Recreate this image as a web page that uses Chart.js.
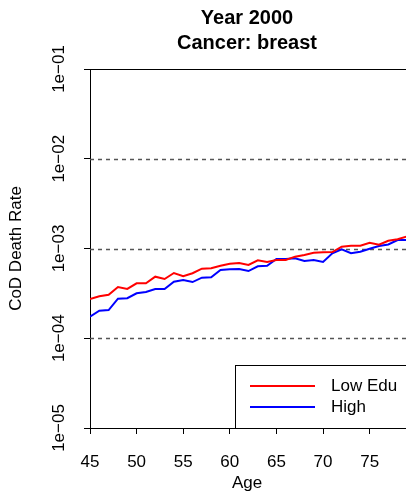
<!DOCTYPE html>
<html>
<head>
<meta charset="utf-8">
<script src="https://cdn.jsdelivr.net/npm/chart.js@4.4.0/dist/chart.umd.min.js"></script>
<style>
  html, body { margin: 0; padding: 0; background: #fff; overflow: hidden; }
  #wrap { width: 406px; height: 491px; }
</style>
</head>
<body>
<div id="wrap"><canvas id="chart" width="406" height="491"></canvas></div>
<script>
// data
const ages = [45, 46, 47, 48, 49, 50, 51, 52, 53, 54, 55, 56, 57, 58, 59, 60, 61, 62,
              63, 64, 65, 66, 67, 68, 69, 70, 71, 72, 73, 74, 75, 76, 77, 78, 79];
const lowEdu = [2.74e-4, 2.93e-4, 3.05e-4, 3.72e-4, 3.54e-4, 4.09e-4, 4.09e-4, 4.85e-4, 4.57e-4,
                5.33e-4, 4.90e-4, 5.30e-4, 5.96e-4, 6.02e-4, 6.43e-4, 6.77e-4, 6.89e-4, 6.55e-4,
                7.39e-4, 7.08e-4, 7.45e-4, 7.45e-4, 8.11e-4, 8.47e-4, 8.98e-4, 9.08e-4, 9.14e-4,
                1.047e-3, 1.075e-3, 1.075e-3, 1.16e-3, 1.10e-3, 1.22e-3, 1.27e-3, 1.36e-3];
const high = [1.74e-4, 2.03e-4, 2.06e-4, 2.76e-4, 2.79e-4, 3.17e-4, 3.28e-4, 3.54e-4, 3.54e-4,
              4.27e-4, 4.46e-4, 4.23e-4, 4.73e-4, 4.78e-4, 5.76e-4, 5.86e-4, 5.91e-4, 5.61e-4,
              6.34e-4, 6.43e-4, 7.64e-4, 7.64e-4, 7.78e-4, 7.26e-4, 7.45e-4, 7.08e-4, 8.85e-4,
              9.80e-4, 8.85e-4, 9.21e-4, 9.95e-4, 1.066e-3, 1.11e-3, 1.24e-3, 1.24e-3];
const seriesNames = ['Low Edu', 'High'];
const seriesColors = ['#ff0000', '#0000ff'];
const xTicks = [45, 50, 55, 60, 65, 70, 75];
const yTicks = [1e-5, 1e-4, 1e-3, 1e-2, 1e-1];
const yTickLabels = ['1e\u221205', '1e\u221204', '1e\u221203', '1e\u221202', '1e\u221201'];
const refLines = [1e-4, 1e-3, 1e-2];
const titleLines = ['Year 2000', 'Cancer: breast'];
const xTitle = 'Age';
const yTitle = 'CoD Death Rate';

const FONT = '"Liberation Sans", Arial, Helvetica, sans-serif';
const CENTER_X = 247;

const rDecor = {
    id: 'rDecor',
    beforeDatasetsDraw(chart) {
        const ctx = chart.ctx;
        const area = chart.chartArea;
        const y = chart.scales.y;
        ctx.save();
        ctx.strokeStyle = '#555';
        ctx.lineWidth = 1.5;
        ctx.setLineDash([4, 4]);
        refLines.forEach(v => {
            const py = Math.round(y.getPixelForValue(v)) + 0.5;
            ctx.beginPath();
            ctx.moveTo(area.left, py);
            ctx.lineTo(area.right, py);
            ctx.stroke();
        });
        ctx.restore();
    },
    afterDraw(chart) {
        const ctx = chart.ctx;
        const area = chart.chartArea;
        const y = chart.scales.y;
        ctx.save();

        // top of the box
        ctx.strokeStyle = '#000';
        ctx.lineWidth = 1;
        ctx.beginPath();
        ctx.moveTo(area.left, Math.round(area.top) + 0.5);
        ctx.lineTo(area.right, Math.round(area.top) + 0.5);
        ctx.stroke();

        // title
        ctx.fillStyle = '#000';
        ctx.textAlign = 'center';
        ctx.textBaseline = 'alphabetic';
        ctx.font = 'bold 20px ' + FONT;
        ctx.fillText(titleLines[0], CENTER_X, 23.5);
        ctx.fillText(titleLines[1], CENTER_X, 48.5);

        // x title
        ctx.font = '17px ' + FONT;
        ctx.fillText(xTitle, CENTER_X, 488);

        // y tick labels, rotated
        ctx.textBaseline = 'middle';
        yTicks.forEach((v, i) => {
            ctx.save();
            ctx.translate(59, y.getPixelForValue(v));
            ctx.rotate(-Math.PI / 2);
            ctx.fillText(yTickLabels[i], 0, 0);
            ctx.restore();
        });

        // y title
        ctx.save();
        ctx.translate(16, (area.top + area.bottom) / 2);
        ctx.rotate(-Math.PI / 2);
        ctx.fillText(yTitle, 0, 0);
        ctx.restore();

        // legend box
        const lx = 235.5, ly = 365.5;
        ctx.fillStyle = '#fff';
        ctx.fillRect(lx, ly, 200, area.bottom - ly);
        ctx.strokeStyle = '#000';
        ctx.lineWidth = 1;
        ctx.strokeRect(lx, ly, 200, Math.round(area.bottom) - ly + 0.5);
        const rows = [386, 407];
        seriesNames.forEach((name, i) => {
            ctx.strokeStyle = seriesColors[i];
            ctx.lineWidth = 2;
            ctx.beginPath();
            ctx.moveTo(250, rows[i]);
            ctx.lineTo(315, rows[i]);
            ctx.stroke();
            ctx.fillStyle = '#000';
            ctx.textAlign = 'left';
            ctx.textBaseline = 'middle';
            ctx.fillText(name, 331, rows[i]);
        });
        ctx.restore();
    }
};

new Chart(document.getElementById('chart').getContext('2d'), {
    type: 'line',
    data: {
        labels: ages,
        datasets: seriesNames.map((name, i) => ({
            label: name,
            data: ages.map((a, j) => ({ x: a, y: i === 0 ? lowEdu[j] : high[j] })),
            borderColor: seriesColors[i],
            borderWidth: 2,
            pointRadius: 0,
            fill: false,
            tension: 0
        }))
    },
    options: {
        responsive: false,
        animation: false,
        layout: { padding: { top: 69, left: 0, right: 0, bottom: 0 } },
        plugins: {
            legend: { display: false },
            tooltip: { enabled: false },
            title: { display: false }
        },
        scales: {
            x: {
                type: 'linear',
                min: 45,
                max: 78.9,
                afterBuildTicks: s => { s.ticks = xTicks.map(v => ({ value: v })); },
                afterFit: s => { s.height = 63; },
                ticks: {
                    color: '#000',
                    padding: 18,
                    maxRotation: 0,
                    font: { family: FONT, size: 17 }
                },
                grid: { drawOnChartArea: false, tickLength: 6, color: '#000' },
                border: { color: '#000', width: 1 }
            },
            y: {
                type: 'logarithmic',
                min: 1e-5,
                max: 1e-1,
                afterBuildTicks: s => { s.ticks = yTicks.map(v => ({ value: v })); },
                afterFit: s => { s.width = 90; },
                ticks: { display: false },
                grid: { drawOnChartArea: false, tickLength: 6, color: '#000' },
                border: { color: '#000', width: 1 }
            }
        }
    },
    plugins: [rDecor]
});
</script>
</body>
</html>
